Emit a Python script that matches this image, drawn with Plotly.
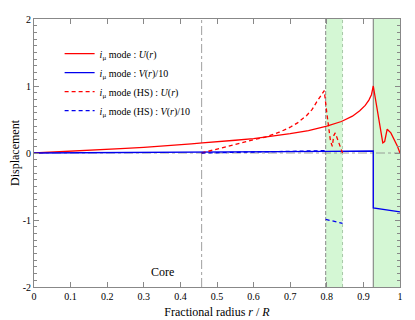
import plotly.graph_objects as go

# i_mu mode, full model
r_full = [0.0, 0.05, 0.1, 0.15, 0.2, 0.25, 0.3, 0.35, 0.4, 0.43, 0.46, 0.5, 0.55, 0.6,
          0.65, 0.7, 0.75, 0.8, 0.84, 0.87, 0.89, 0.905, 0.915, 0.922, 0.927,
          0.953, 0.958, 0.962, 0.965, 0.975, 0.985, 0.993, 1.0]
u_full = [0.0, 0.012, 0.025, 0.04, 0.055, 0.07, 0.085, 0.1, 0.12, 0.135, 0.15, 0.165, 0.19, 0.215,
          0.25, 0.29, 0.335, 0.4, 0.47, 0.55, 0.63, 0.71, 0.79, 0.87, 1.0,
          0.15, 0.17, 0.3, 0.355, 0.3, 0.2, 0.1, 0.0]

r_v_full = [0.0, 0.2, 0.4, 0.6, 0.8, 0.927, 0.927, 1.0]
v_full = [0.0, 0.004, 0.01, 0.016, 0.024, 0.03, -0.82, -0.88]

# i_mu mode, HS model
r_hs = [0.458, 0.475, 0.5, 0.55, 0.6, 0.63, 0.67, 0.7, 0.72, 0.745, 0.76, 0.772, 0.783, 0.793,
        0.8, 0.805, 0.81, 0.815, 0.819, 0.823, 0.828, 0.836, 0.843]
u_hs = [0.0, 0.025, 0.06, 0.13, 0.2, 0.235, 0.31, 0.385, 0.45, 0.56, 0.65, 0.76, 0.85, 0.93,
        0.6, 0.35, 0.18, 0.1, 0.26, 0.3, 0.22, 0.1, 0.0]

r_v_hs = [0.458, 0.6, 0.7, 0.797, None, 0.797, 0.843]
v_hs = [0.0, 0.01, 0.02, 0.035, None, -0.99, -1.05]

r_core = 0.458
band_hs = [0.797, 0.843]
band_full = [0.927, 1.0]

x_ticks = [0, 0.1, 0.2, 0.3, 0.4, 0.5, 0.6, 0.7, 0.8, 0.9, 1]
x_labels = ["0", "0.1", "0.2", "0.3", "0.4", "0.5", "0.6", "0.7", "0.8", "0.9", "1"]
y_ticks = [-2, -1, 0, 1, 2]
y_labels = ["-2", "-1", "0", "1", "2"]

FONT = "Liberation Serif"
RED = "#ff0000"
BLUE = "#0000ee"
GREY = "#888888"

fig = go.Figure()

fig.add_trace(go.Scatter(x=r_full, y=u_full, mode="lines", line=dict(color=RED, width=1.3),
                         name="<i>i</i><sub>μ</sub> mode : <i>U</i>(<i>r</i>)"))
fig.add_trace(go.Scatter(x=r_v_full, y=v_full, mode="lines", line=dict(color=BLUE, width=1.3),
                         name="<i>i</i><sub>μ</sub> mode : <i>V</i>(<i>r</i>)/10"))
fig.add_trace(go.Scatter(x=r_hs, y=u_hs, mode="lines", line=dict(color=RED, width=1.3, dash="4px,3px"),
                         name="<i>i</i><sub>μ</sub> mode (HS) : <i>U</i>(<i>r</i>)"))
fig.add_trace(go.Scatter(x=r_v_hs, y=v_hs, mode="lines", line=dict(color=BLUE, width=1.3, dash="4px,3px"),
                         connectgaps=False,
                         name="<i>i</i><sub>μ</sub> mode (HS) : <i>V</i>(<i>r</i>)/10"))

# green shaded zones
for x0, x1 in (band_hs, band_full):
    fig.add_vrect(x0=x0, x1=x1, fillcolor="#d4f7d4", line_width=0, layer="below")

# reference lines
fig.add_hline(y=0, line=dict(color=GREY, width=0.8, dash="dashdot"), layer="below")
fig.add_vline(x=r_core, line=dict(color=GREY, width=0.8, dash="dashdot"), layer="below")
fig.add_vline(x=band_hs[0], line=dict(color=GREY, width=1, dash="4px,2px"), layer="below")
fig.add_vline(x=band_hs[1], line=dict(color="#a8c8a8", width=1, dash="dot"), layer="below")
fig.add_vline(x=band_full[0], line=dict(color="#777777", width=1), layer="below")

fig.add_annotation(x=0.35, y=-1.77, text="Core", showarrow=False,
                   font=dict(family=FONT, size=12, color="black"))

axis_common = dict(showgrid=False, zeroline=False, showline=True, linecolor=GREY, linewidth=1,
                   mirror="ticks", ticks="inside", tickcolor=GREY, ticklen=5, automargin=False,
                   tickfont=dict(family=FONT, size=10, color="black"))

fig.update_xaxes(range=[0, 1], tickvals=x_ticks, ticktext=x_labels,
                 title=dict(text="Fractional radius <i>r</i> / <i>R</i>", standoff=6,
                            font=dict(family=FONT, size=12, color="black")),
                 **axis_common)
fig.update_yaxes(range=[-2, 2], tickvals=y_ticks, ticktext=y_labels,
                 minor=dict(dtick=0.1, ticks="inside", ticklen=3, tickcolor=GREY),
                 title=dict(text="Displacement", standoff=8,
                            font=dict(family=FONT, size=12, color="black")),
                 **axis_common)

# the page body adds an 8px offset top-left, so the figure is 8px smaller than the window
fig.update_layout(
    width=407, height=312,
    margin=dict(l=26, r=15, t=11, b=33),
    plot_bgcolor="white", paper_bgcolor="white",
    font=dict(family=FONT, color="black"),
    legend=dict(x=0.07, y=0.925, xanchor="left", yanchor="top", bgcolor="rgba(0,0,0,0)",
                font=dict(family=FONT, size=10), itemwidth=30, tracegroupgap=0),
)

fig.write_html("out.html")
